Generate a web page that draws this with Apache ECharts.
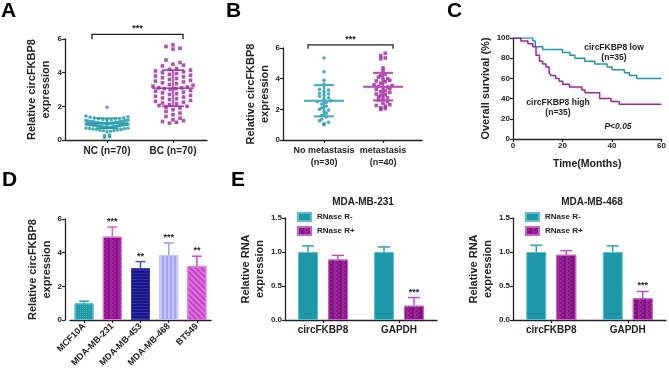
<!DOCTYPE html>
<html>
<head>
<meta charset="utf-8">
<script src="https://cdn.jsdelivr.net/npm/echarts@6/dist/echarts.min.js"></script>
<style>
  html, body { margin: 0; padding: 0; background: #fff; }
  #chart { width: 669px; height: 375px; }
</style>
</head>
<body>
<div id="chart"></div>
<script>
// 6-panel figure: A/B scatter dot plots, C Kaplan-Meier, D bars, E RNase R bars

const FONT = '"Liberation Sans", Arial, sans-serif';
const TEAL = '#1e98a9';
const PURPLE = '#a0229f';
const INK = '#222';

// ─── data ─────────────────────────────────────────────
// A: NC vs BC tissue
const aGroups = ['NC (n=70)', 'BC (n=70)'];
const aNC = [1.95, 1.42, 1.38, 1.35, 1.32, 1.3, 1.28, 1.26, 1.25, 1.22, 1.2, 1.2, 1.18, 1.16, 1.15, 1.13, 1.12, 1.1, 1.1, 1.08,
  1.06, 1.05, 1.04, 1.02, 1.0, 1.0, 0.99, 0.98, 0.97, 0.96, 0.95, 0.94, 0.93, 0.92, 0.91, 0.9, 0.9, 0.89, 0.88, 0.87,
  0.86, 0.85, 0.84, 0.83, 0.82, 0.8, 0.8, 0.78, 0.77, 0.76, 0.75, 0.74, 0.72, 0.71, 0.7, 0.68, 0.67, 0.65, 0.63, 0.62,
  0.6, 0.58, 0.56, 0.55, 0.52, 0.48, 0.3, 0.27, 0.2, 0.15];
const aBC = [5.65, 5.55, 5.45, 5.4, 4.75, 4.6, 4.5, 4.45, 4.4, 4.25, 4.2, 4.15, 4.1, 4.05, 4.0, 3.95, 3.9, 3.85, 3.8, 3.75,
  3.7, 3.65, 3.6, 3.55, 3.5, 3.45, 3.4, 3.35, 3.3, 3.25, 3.2, 3.15, 3.1, 3.1, 3.05, 3.05, 3.0, 2.95, 2.9, 2.85,
  2.8, 2.75, 2.7, 2.65, 2.6, 2.55, 2.5, 2.45, 2.4, 2.35, 2.3, 2.25, 2.2, 2.15, 2.1, 2.05, 2.0, 1.95, 1.9, 1.8,
  1.7, 1.6, 1.5, 1.4, 1.3, 1.2, 1.15, 1.1, 1.05, 1.0];
const aMean = [1.0, 3.08];
const aSd = [0.3, 1.07];

// B: metastasis
const bGroups = ['No metastasis\n(n=30)', 'metastasis\n(n=40)'];
const bNoMet = [5.35, 4.45, 3.9, 3.65, 3.3, 3.25, 3.15, 3.05, 3.0, 2.95, 2.85, 2.75, 2.65, 2.55, 2.5, 2.45, 2.35, 2.2, 2.1, 2.0,
  1.95, 1.85, 1.75, 1.6, 1.5, 1.35, 1.25, 1.15, 1.05, 1.0];
const bMet = [5.65, 5.5, 5.35, 5.3, 4.7, 4.5, 4.3, 4.2, 4.1, 4.0, 3.95, 3.9, 3.85, 3.8, 3.7, 3.6, 3.55, 3.5, 3.45, 3.4,
  3.35, 3.3, 3.2, 3.15, 3.1, 3.0, 2.95, 2.9, 2.8, 2.75, 2.7, 2.6, 2.5, 2.4, 2.3, 2.25, 2.2, 2.1, 2.05, 2.0];
const bMean = [2.56, 3.48];
const bSd = [1.02, 0.9];

// C: overall survival (months, %)
const cLowTime = [0, 8, 9, 12, 20, 23, 25, 29, 33, 38, 40, 45, 47, 50, 60];
const cLowSurv = [100, 97.1, 91.4, 88.6, 85.7, 82.9, 80.0, 77.1, 74.3, 71.4, 68.6, 65.7, 62.9, 60.0, 60.0];
const cHighTime = [0, 3.2, 6, 8, 9.3, 10.7, 12, 13.3, 14.6, 15.3, 17.2, 18.6, 20.1, 22.8, 27.8, 29.1, 35, 39.6, 42.9, 60];
const cHighSurv = [100, 97.1, 94.3, 91.4, 82.9, 77.1, 74.3, 71.4, 65.7, 62.9, 60.0, 57.1, 54.3, 51.4, 48.6, 45.7, 40.0, 37.1, 34.3, 34.3];

// D: cell lines
const dCells = ['MCF10A', 'MDA-MB-231', 'MDA-MB-453', 'MDA-MB-468', 'BT549'];
const dMean = [1.0, 4.95, 3.07, 3.86, 3.19];
const dErr = [0.12, 0.57, 0.4, 0.72, 0.6];
const dSig = ['', '***', '**', '***', '**'];

// E: RNase R treatment
const eGenes = ['circFKBP8', 'GAPDH'];
const e231Minus = [1.0, 1.0];
const e231MinusErr = [0.09, 0.075];
const e231Plus = [0.89, 0.21];
const e231PlusErr = [0.06, 0.12];
const e468Minus = [1.0, 1.0];
const e468MinusErr = [0.1, 0.09];
const e468Plus = [0.96, 0.32];
const e468PlusErr = [0.06, 0.1];
const eSig = ['', '***'];

// ─── styles ───────────────────────────────────────────
const dColors = ['#1e98a9', '#a81fa6', '#16168c', '#a4a4f6', '#cc3ccc'];
const dErrColors = ['#2aa3b3', '#c862c6', '#5454c4', '#9c9cf0', '#cc44cc'];
const dBorders = ['#5cc0cc', '#d27ad0', '#3838b0', '#c4c4fa', '#e070e0'];
const dDecals = [
  { symbol: 'rect', symbolSize: 1, dashArrayX: [1, 1], dashArrayY: [1, 1], color: 'rgba(255,255,255,0.18)' },
  { symbol: 'rect', symbolSize: 1, dashArrayX: [[2, 2], [0, 2, 2]], dashArrayY: [2, 0], color: 'rgba(70,0,70,0.35)' },
  { symbol: 'rect', symbolSize: 1, dashArrayX: [1, 0], dashArrayY: [1, 2], color: 'rgba(255,255,255,0.12)' },
  { symbol: 'rect', symbolSize: 1, dashArrayX: [2, 2], dashArrayY: [1, 0], color: 'rgba(255,255,255,0.35)' },
  { symbol: 'rect', symbolSize: 1, dashArrayX: [1, 0], dashArrayY: [2, 2], rotation: Math.PI / 4, color: 'rgba(255,255,255,0.3)' }
];
const checkerDecal = { symbol: 'rect', symbolSize: 1, dashArrayX: [[2, 2], [0, 2, 2]], dashArrayY: [2, 0], color: 'rgba(60,0,60,0.35)' };

const tickLabel = { fontFamily: FONT, fontWeight: 'bold', fontSize: 8, color: INK, margin: 3 };
const axisLine = { show: true, lineStyle: { color: INK, width: 1.3 } };
const axisTick = { show: true, length: 3, lineStyle: { color: INK, width: 1.2 } };
const titleStyle = { fontFamily: FONT, fontWeight: 'bold', fontSize: 11, color: INK, lineHeight: 14 };

// ─── helpers ──────────────────────────────────────────

/** GraphPad 風の横広がり配置: y 方向に px ビン分けし、ビン内で左右に並べる */
function spread(values, center, kx, ky, binPx, stepPx, maxW) {
  const bins = {};
  values.forEach((v) => {
    const k = Math.floor(v * ky / binPx);
    (bins[k] = bins[k] || []).push(v);
  });
  const out = [];
  Object.values(bins).forEach((list) => {
    list.sort((a, b) => a - b);
    const n = list.length;
    const step = n > 1 ? Math.min(stepPx, maxW / (n - 1)) : 0;
    const slots = [];
    for (let i = 0; i < n; i++) slots.push((i - (n - 1) / 2) * step);
    // 中央から外へ交互に
    const order = [];
    let lo = Math.floor((n - 1) / 2), hi = lo + 1;
    while (order.length < n) {
      if (lo >= 0) order.push(lo--);
      if (hi < n && order.length < n) order.push(hi++);
    }
    list.forEach((v, r) => out.push([center + slots[order[r]] / kx, v]));
  });
  return out;
}

function meanSdItem(colors, hwMean, hwSd, width) {
  return (params, api) => {
    const x = api.value(0), m = api.value(1), s = api.value(2);
    const c = api.coord([x, m]);
    const hi = api.coord([x, m + s]);
    const lo = api.coord([x, m - s]);
    const st = { stroke: colors[params.dataIndex], lineWidth: width };
    return {
      type: 'group',
      children: [
        { type: 'line', shape: { x1: c[0] - hwMean, y1: c[1], x2: c[0] + hwMean, y2: c[1] }, style: st },
        { type: 'line', shape: { x1: hi[0] - hwSd, y1: hi[1], x2: hi[0] + hwSd, y2: hi[1] }, style: st },
        { type: 'line', shape: { x1: lo[0] - hwSd, y1: lo[1], x2: lo[0] + hwSd, y2: lo[1] }, style: st },
        { type: 'line', shape: { x1: c[0], y1: hi[1], x2: c[0], y2: lo[1] }, style: st }
      ]
    };
  };
}

function bracketItem(params, api) {
  const p1 = api.coord([api.value(0), api.value(3)]);
  const p2 = api.coord([api.value(0), api.value(2)]);
  const p3 = api.coord([api.value(1), api.value(2)]);
  const p4 = api.coord([api.value(1), api.value(3)]);
  return {
    type: 'group',
    children: [
      { type: 'polyline', shape: { points: [p1, p2, p3, p4] }, style: { stroke: INK, lineWidth: 1.3, fill: null } },
      { type: 'text', style: { text: '***', x: (p2[0] + p3[0]) / 2, y: p2[1] - 1, align: 'center', verticalAlign: 'bottom',
        fontFamily: FONT, fontWeight: 'bold', fontSize: 9, fill: INK } }
    ]
  };
}

/** 上側だけのエラーバー + 有意差マーク */
function errItem(colors, sig, offset, capHw) {
  return (params, api) => {
    const i = api.value(0), v = api.value(1), e = api.value(2);
    const base = api.coord([i, v]);
    const top = api.coord([i, v + e]);
    const x = base[0] + offset;
    const st = { stroke: colors[params.dataIndex], lineWidth: 1.5 };
    const children = [
      { type: 'line', shape: { x1: x, y1: base[1], x2: x, y2: top[1] }, style: st },
      { type: 'line', shape: { x1: x - capHw, y1: top[1], x2: x + capHw, y2: top[1] }, style: st }
    ];
    if (sig[params.dataIndex]) {
      children.push({ type: 'text', style: { text: sig[params.dataIndex], x: x, y: top[1] - 1, align: 'center',
        verticalAlign: 'bottom', fontFamily: FONT, fontWeight: 'bold', fontSize: 9, fill: INK } });
    }
    return { type: 'group', children };
  };
}

function valueY(gridIndex, max, interval, name, nameGap, fmt, offset) {
  return {
    gridIndex, type: 'value', min: 0, max, interval,
    axisLine, axisTick, splitLine: { show: false },
    axisLabel: Object.assign({}, tickLabel, fmt ? { formatter: fmt } : {}),
    name, nameLocation: 'middle', nameRotate: 90, nameGap, nameTextStyle: titleStyle,
    offset: offset || 0
  };
}

// ─── option ───────────────────────────────────────────

const kA = { kx: 66, ky: 16.83 };
const kB = { kx: 59, ky: 15.33 };

const grids = [
  { left: 65, top: 39, width: 142, height: 101 },   // A
  { left: 283, top: 48, width: 139, height: 92 },   // B
  { left: 513, top: 38, width: 152, height: 101 },  // C
  { left: 70, top: 219, width: 141, height: 101 },  // D
  { left: 285, top: 218, width: 152, height: 102 }, // E 231
  { left: 513, top: 218, width: 153, height: 102 }  // E 468
];

const xAxes = [
  {
    gridIndex: 0, type: 'value', min: 0.364, max: 2.515, axisLine, splitLine: { show: false },
    axisTick: Object.assign({}, axisTick, { customValues: [1, 2] }),
    axisLabel: Object.assign({}, tickLabel, { fontSize: 10, margin: 6, customValues: [1, 2],
      formatter: (v) => aGroups[Math.round(v) - 1] })
  },
  {
    gridIndex: 1, type: 'value', min: 0.305, max: 2.66, axisLine, splitLine: { show: false },
    axisTick: Object.assign({}, axisTick, { customValues: [1, 2] }),
    axisLabel: Object.assign({}, tickLabel, { fontSize: 9, margin: 5, lineHeight: 12, customValues: [1, 2],
      formatter: (v) => bGroups[Math.round(v) - 1] })
  },
  {
    gridIndex: 2, type: 'value', min: 0, max: 60, interval: 20, axisLine, axisTick, splitLine: { show: false },
    axisLabel: tickLabel,
    name: 'Time(Months)', nameLocation: 'middle', nameGap: 18,
    nameTextStyle: Object.assign({}, titleStyle, { fontSize: 10.5 })
  },
  {
    gridIndex: 3, type: 'category', data: dCells, axisLine, axisTick: Object.assign({}, axisTick, { alignWithLabel: true }),
    axisLabel: Object.assign({}, tickLabel, { fontSize: 9, rotate: 45, margin: 5, interval: 0 })
  },
  {
    gridIndex: 4, type: 'category', data: eGenes, axisLine, axisTick: Object.assign({}, axisTick, { alignWithLabel: true }),
    axisLabel: Object.assign({}, tickLabel, { fontSize: 10, margin: 5 })
  },
  {
    gridIndex: 5, type: 'category', data: eGenes, axisLine, axisTick: Object.assign({}, axisTick, { alignWithLabel: true }),
    axisLabel: Object.assign({}, tickLabel, { fontSize: 10, margin: 5 })
  }
];

const ratio1 = (v) => v.toFixed(1);
const yAxes = [
  valueY(0, 6, 2, 'Relative circFKBP8\nexpression', 12),
  valueY(1, 6, 2, 'Relative circFKBP8\nexpression', 9),
  valueY(2, 100, 20, 'Overall survival (%)', 20),
  valueY(3, 6, 2, 'Relative circFKBP8\nexpression', 10, null, 5),
  valueY(4, 1.5, 0.5, 'Relative RNA\nexpression', 17, ratio1),
  valueY(5, 1.5, 0.5, 'Relative RNA\nexpression', 18, ratio1)
];

const series = [
  // A
  { type: 'scatter', xAxisIndex: 0, yAxisIndex: 0, symbol: 'circle', symbolSize: 3.6, itemStyle: { color: TEAL },
    data: spread(aNC, 1, kA.kx, kA.ky, 4, 5, 42), z: 2 },
  { type: 'scatter', xAxisIndex: 0, yAxisIndex: 0, symbol: 'rect', symbolSize: 3.6, itemStyle: { color: PURPLE },
    data: spread(aBC, 2, kA.kx, kA.ky, 5, 7, 40), z: 2 },
  { type: 'custom', xAxisIndex: 0, yAxisIndex: 0, renderItem: meanSdItem([TEAL, PURPLE], 21, 11, 1.4),
    data: [[1, aMean[0], aSd[0]], [2, aMean[1], aSd[1]]], z: 3 },
  { type: 'custom', xAxisIndex: 0, yAxisIndex: 0, renderItem: bracketItem, data: [[0.773, 2.152, 6.28, 5.98]], z: 3 },
  // B
  { type: 'scatter', xAxisIndex: 1, yAxisIndex: 1, symbol: 'circle', symbolSize: 3.6, itemStyle: { color: TEAL },
    data: spread(bNoMet, 1, kB.kx, kB.ky, 4, 4.5, 14), z: 2 },
  { type: 'scatter', xAxisIndex: 1, yAxisIndex: 1, symbol: 'rect', symbolSize: 3.6, itemStyle: { color: PURPLE },
    data: spread(bMet, 2, kB.kx, kB.ky, 4, 4.5, 18), z: 2 },
  { type: 'custom', xAxisIndex: 1, yAxisIndex: 1, renderItem: meanSdItem(['#3aaebf', '#b448b4'], 20, 10, 2),
    data: [[1, bMean[0], bSd[0]], [2, bMean[1], bSd[1]]], z: 3 },
  { type: 'custom', xAxisIndex: 1, yAxisIndex: 1, renderItem: bracketItem, data: [[0.73, 2.17, 6.2, 5.95]], z: 3 },
  // C
  { type: 'line', xAxisIndex: 2, yAxisIndex: 2, step: 'end', symbol: 'none', lineStyle: { color: TEAL, width: 1.5 },
    data: cLowTime.map((t, i) => [t, cLowSurv[i]]) },
  { type: 'line', xAxisIndex: 2, yAxisIndex: 2, step: 'end', symbol: 'none', lineStyle: { color: PURPLE, width: 1.5 },
    data: cHighTime.map((t, i) => [t, cHighSurv[i]]) },
  // D
  { type: 'bar', xAxisIndex: 3, yAxisIndex: 3, barWidth: 19,
    data: dMean.map((v, i) => ({ value: v, itemStyle: { color: dColors[i], borderColor: dBorders[i], borderWidth: 1, decal: dDecals[i] } })) },
  { type: 'custom', xAxisIndex: 3, yAxisIndex: 3, renderItem: errItem(dErrColors, dSig, 0, 5),
    data: dMean.map((v, i) => [i, v, dErr[i]]), z: 3 },
  // E MDA-MB-231
  { type: 'bar', name: 'RNase R-', xAxisIndex: 4, yAxisIndex: 4, barWidth: 20, barGap: '50%',
    itemStyle: { color: TEAL, borderColor: '#5cc0cc', borderWidth: 1 }, data: e231Minus },
  { type: 'bar', name: 'RNase R+', xAxisIndex: 4, yAxisIndex: 4, barWidth: 20, barGap: '50%',
    itemStyle: { color: PURPLE, borderColor: '#c862c6', borderWidth: 1, decal: checkerDecal }, data: e231Plus },
  { type: 'custom', xAxisIndex: 4, yAxisIndex: 4, renderItem: errItem(['#2aa3b3', '#2aa3b3'], ['', ''], -15, 6),
    data: e231Minus.map((v, i) => [i, v, e231MinusErr[i]]), z: 3 },
  { type: 'custom', xAxisIndex: 4, yAxisIndex: 4, renderItem: errItem(['#c050c0', '#c050c0'], eSig, 15, 6),
    data: e231Plus.map((v, i) => [i, v, e231PlusErr[i]]), z: 3 },
  // E MDA-MB-468
  { type: 'bar', name: 'RNase R-', xAxisIndex: 5, yAxisIndex: 5, barWidth: 20, barGap: '50%',
    itemStyle: { color: TEAL, borderColor: '#5cc0cc', borderWidth: 1 }, data: e468Minus },
  { type: 'bar', name: 'RNase R+', xAxisIndex: 5, yAxisIndex: 5, barWidth: 20, barGap: '50%',
    itemStyle: { color: PURPLE, borderColor: '#c862c6', borderWidth: 1, decal: checkerDecal }, data: e468Plus },
  { type: 'custom', xAxisIndex: 5, yAxisIndex: 5, renderItem: errItem(['#2aa3b3', '#2aa3b3'], ['', ''], -15, 6),
    data: e468Minus.map((v, i) => [i, v, e468MinusErr[i]]), z: 3 },
  { type: 'custom', xAxisIndex: 5, yAxisIndex: 5, renderItem: errItem(['#c050c0', '#c050c0'], eSig, 15, 6),
    data: e468Plus.map((v, i) => [i, v, e468PlusErr[i]]), z: 3 }
];

const legendBase = {
  orient: 'vertical', icon: 'rect', itemWidth: 13, itemHeight: 8, itemGap: 4, selectedMode: false,
  padding: 0,
  data: ['RNase R-', 'RNase R+'],
  textStyle: { fontFamily: FONT, fontWeight: 'bold', fontSize: 8, color: INK, padding: [0, 0, 0, 1] }
};

function txt(text, x, y, size, extra) {
  return {
    type: 'text', x, y,
    style: Object.assign({ text, fontFamily: FONT, fontWeight: 'bold', fontSize: size, fill: INK,
      align: 'center', verticalAlign: 'middle' }, extra || {})
  };
}

const graphics = [
  txt('A', 1, 1, 21, { align: 'left', verticalAlign: 'top', fill: '#000' }),
  txt('B', 226, 1, 21, { align: 'left', verticalAlign: 'top', fill: '#000' }),
  txt('C', 447, 1, 21, { align: 'left', verticalAlign: 'top', fill: '#000' }),
  txt('D', 2, 170, 21, { align: 'left', verticalAlign: 'top', fill: '#000' }),
  txt('E', 231, 170, 21, { align: 'left', verticalAlign: 'top', fill: '#000' }),
  txt('MDA-MB-231', 363, 202, 10),
  txt('MDA-MB-468', 592, 202, 10),
  txt('circFKBP8 low', 614, 48, 8.5),
  txt('(n=35)', 614, 58, 8.5),
  txt('circFKBP8 high', 558, 103, 8.5),
  txt('(n=35)', 558, 113, 8.5),
  txt('P<0.05', 618, 127, 8.5, { fontStyle: 'italic' })
];

const chart = echarts.init(document.getElementById('chart'), null, { renderer: 'canvas' });
chart.setOption({
  backgroundColor: '#fff',
  animation: false,
  textStyle: { fontFamily: FONT },
  grid: grids,
  xAxis: xAxes,
  yAxis: yAxes,
  legend: [
    Object.assign({}, legendBase, { left: 297, top: 212 }),
    Object.assign({}, legendBase, { left: 525, top: 212 })
  ],
  graphic: graphics,
  series
});
</script>
</body>
</html>
